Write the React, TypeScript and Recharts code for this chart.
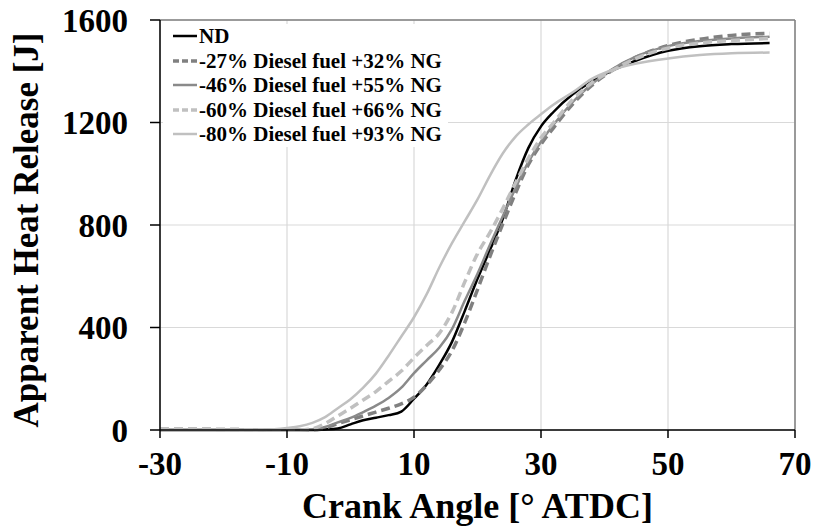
import React from 'react';
import { LineChart, Line, XAxis, YAxis, CartesianGrid, Legend, ReferenceLine, Label } from 'recharts';

const crankAngle = [-30, -25, -20, -15, -12, -10, -8, -6, -4, -2, 0, 2, 4, 6, 8, 10, 12, 14, 16, 18, 20, 22, 24, 26, 28, 30, 32, 35, 38, 41, 45, 50, 55, 60, 66];

const ndHR = [0, 0, 0, 0, 0, 0, 0, 0, 2, 6, 22, 38, 48, 58, 72, 122, 178, 255, 345, 465, 590, 705, 825, 975, 1100, 1185, 1242, 1310, 1360, 1400, 1442, 1480, 1498, 1506, 1510];
const diesel27HR = [3, 3, 2, 1, 0, 0, 0, 1, 8, 25, 40, 55, 70, 85, 102, 128, 175, 235, 310, 420, 548, 680, 805, 925, 1035, 1115, 1180, 1272, 1345, 1400, 1455, 1500, 1525, 1540, 1548];
const diesel46HR = [0, 0, 0, 0, 0, 0, 0, 3, 12, 30, 47, 70, 95, 125, 165, 222, 272, 322, 395, 505, 610, 725, 835, 945, 1045, 1125, 1192, 1280, 1350, 1405, 1458, 1498, 1518, 1528, 1535];
const diesel60HR = [3, 3, 2, 1, 0, 0, 0, 5, 25, 55, 85, 117, 150, 190, 230, 282, 330, 378, 460, 578, 688, 772, 865, 965, 1060, 1140, 1200, 1290, 1355, 1400, 1450, 1490, 1510, 1520, 1528];
const diesel80HR = [0, 0, 0, 0, 3, 8, 15, 28, 50, 85, 120, 165, 220, 290, 365, 440, 530, 635, 730, 815, 900, 995, 1080, 1145, 1192, 1232, 1270, 1318, 1370, 1403, 1430, 1450, 1463, 1470, 1473];

const seriesNames = ['ND', '-27% Diesel fuel +32% NG', '-46% Diesel fuel +55% NG', '-60% Diesel fuel +66% NG', '-80% Diesel fuel +93% NG'];
const xTicks = [-30, -10, 10, 30, 50, 70];
const yTicks = [0, 400, 800, 1200, 1600];

const data = crankAngle.map((a, i) => ({
  angle: a,
  s0: ndHR[i],
  s1: diesel27HR[i],
  s2: diesel46HR[i],
  s3: diesel60HR[i],
  s4: diesel80HR[i],
}));

const FONT = '"Liberation Serif", "Times New Roman", serif';

const styles = [
  { color: '#000000', width: 2.5, dash: undefined as string | undefined },
  { color: '#808080', width: 3.5, dash: '9 5' },
  { color: '#8a8a8a', width: 2.5, dash: undefined },
  { color: '#c0c0c0', width: 3.5, dash: '9 5' },
  { color: '#c0c0c0', width: 2.5, dash: undefined },
];

function LegendBox() {
  return (
    <div style={{ background: '#fff', paddingLeft: 10, paddingRight: 6, fontFamily: FONT, fontWeight: 'bold', fontSize: 21, color: '#000', lineHeight: '24.5px' }}>
      {seriesNames.map((name, i) => (
        <div key={name} style={{ display: 'flex', alignItems: 'center', height: 24.5, whiteSpace: 'nowrap' }}>
          <svg width={26} height={10} style={{ display: 'block' }}>
            <line x1={0} x2={24} y1={5} y2={5} stroke={styles[i].color} strokeWidth={styles[i].width} strokeDasharray={styles[i].dash ? '6 3' : undefined} />
          </svg>
          <span>{name}</span>
        </div>
      ))}
    </div>
  );
}

export default function App() {
  const tickStyle = { fontSize: 33, fontWeight: 'bold', fill: '#000', fontFamily: FONT };
  return (
    <div style={{ position: 'absolute', left: 0, top: 0, width: 816, height: 531, background: '#fff' }}>
      <LineChart width={816} height={531} data={data} margin={{ top: 20, right: 21, bottom: 0, left: 0 }}>
        <CartesianGrid stroke="#d9d9d9" strokeWidth={1.2} />
        <XAxis
          type="number"
          dataKey="angle"
          domain={[-30, 70]}
          ticks={xTicks}
          interval={0}
          height={101}
          tick={tickStyle}
          tickSize={8}
          tickMargin={14}
          axisLine={{ stroke: '#000', strokeWidth: 1.5 }}
          tickLine={{ stroke: '#000', strokeWidth: 1.5 }}
        >
          <Label value="Crank Angle [° ATDC]" position="insideBottom" offset={13} style={{ fontSize: 36, fontWeight: 'bold', fill: '#000', fontFamily: FONT }} />
        </XAxis>
        <YAxis
          type="number"
          domain={[0, 1600]}
          ticks={yTicks}
          interval={0}
          width={160}
          tick={tickStyle}
          tickSize={10}
          tickMargin={22}
          axisLine={{ stroke: '#000', strokeWidth: 1.5 }}
          tickLine={{ stroke: '#000', strokeWidth: 1.5 }}
        >
          <Label value="Apparent Heat Release [J]" angle={-90} position="center" dx={-54} dy={5} style={{ fontSize: 35, fontWeight: 'bold', fill: '#000', fontFamily: FONT, textAnchor: 'middle' }} />
        </YAxis>
        <ReferenceLine y={1600} stroke="#808080" strokeWidth={1.5} />
        <ReferenceLine x={70} stroke="#808080" strokeWidth={1.5} />
        <Legend
          layout="vertical"
          align="center"
          verticalAlign="middle"
          content={() => <LegendBox />}
          wrapperStyle={{ left: 163, top: 24, width: 'auto', height: 'auto' }}
        />
        {['s0', 's1', 's2', 's3', 's4'].map((k, i) => (
          <Line
            key={k}
            type="monotone"
            dataKey={k}
            name={seriesNames[i]}
            stroke={styles[i].color}
            strokeWidth={styles[i].width}
            strokeDasharray={styles[i].dash}
            dot={false}
            activeDot={false}
            isAnimationActive={false}
          />
        ))}
      </LineChart>
    </div>
  );
}
